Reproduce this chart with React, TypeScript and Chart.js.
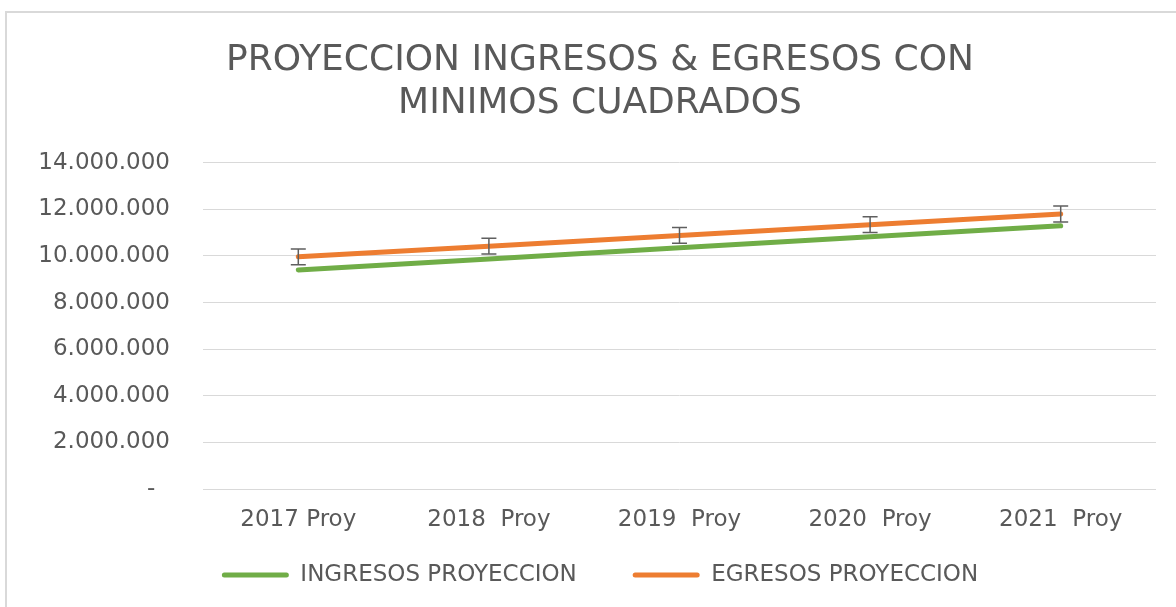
import React, { useEffect, useRef } from "react";
import { Chart, registerables } from "chart.js";

Chart.register(...registerables);

const CATEGORIES = ["2017 Proy", "2018  Proy", "2019  Proy", "2020  Proy", "2021  Proy"];
const INGRESOS = [9400000, 9870000, 10350000, 10820000, 11290000];
const EGRESOS = [9960000, 10420000, 10880000, 11340000, 11800000];
const EGRESOS_ERROR = [340000, 340000, 340000, 340000, 340000];
const SERIES_NAMES = ["INGRESOS PROYECCION", "EGRESOS PROYECCION"];
const TITLE_LINES = ["PROYECCION INGRESOS & EGRESOS CON", "MINIMOS CUADRADOS"];
const Y_MIN = 0;
const Y_MAX = 14000000;
const Y_STEP = 2000000;

const FONT = "'DejaVu Sans', sans-serif";
const TEXT = "#595959";

function formatTick(v: number): string {
  if (v === 0) return "-  ";
  return String(Math.round(v)).replace(/\B(?=(\d{3})+(?!\d))/g, ".");
}

const errorBarPlugin = {
  id: "errorBars",
  afterDatasetsDraw(chart: any) {
    const meta = chart.getDatasetMeta(1);
    const yScale = chart.scales.y;
    const ctx = chart.ctx;
    ctx.save();
    ctx.strokeStyle = "#5f5f5f";
    ctx.lineWidth = 1.5;
    meta.data.forEach((pt: any, i: number) => {
      const x = pt.x;
      const v = EGRESOS[i];
      const e = EGRESOS_ERROR[i];
      const yt = yScale.getPixelForValue(v + e);
      const yb = yScale.getPixelForValue(v - e);
      ctx.beginPath();
      ctx.moveTo(x, yt);
      ctx.lineTo(x, yb);
      ctx.moveTo(x - 7.5, yt);
      ctx.lineTo(x + 7.5, yt);
      ctx.moveTo(x - 7.5, yb);
      ctx.lineTo(x + 7.5, yb);
      ctx.stroke();
    });
    ctx.restore();
  },
};

export default function App() {
  const ref = useRef<HTMLCanvasElement | null>(null);

  useEffect(() => {
    if (!ref.current) return;
    const chart = new Chart(ref.current, {
      type: "line",
      data: {
        labels: CATEGORIES,
        datasets: [
          {
            label: SERIES_NAMES[0],
            data: INGRESOS,
            borderColor: "#70AD47",
            backgroundColor: "#70AD47",
            borderWidth: 5,
            borderCapStyle: "round",
            pointRadius: 0,
            fill: false,
            tension: 0,
          },
          {
            label: SERIES_NAMES[1],
            data: EGRESOS,
            borderColor: "#ED7D31",
            backgroundColor: "#ED7D31",
            borderWidth: 5,
            borderCapStyle: "round",
            pointRadius: 0,
            fill: false,
            tension: 0,
          },
        ],
      },
      options: {
        animation: false,
        responsive: false,
        maintainAspectRatio: false,
        layout: { padding: { left: 30, right: 6, top: 0, bottom: 10.5 } },
        plugins: {
          title: {
            display: true,
            text: TITLE_LINES,
            color: TEXT,
            font: { family: FONT, size: 36, weight: "normal", lineHeight: 1.2 },
            padding: { top: 39, bottom: 37.3 },
          },
          legend: {
            position: "bottom",
            labels: {
              color: TEXT,
              font: { family: FONT, size: 23 },
              boxWidth: 67,
              boxHeight: 5,
              padding: 12,
              useBorderRadius: true,
              borderRadius: 2.5,
              generateLabels: (chart: any) => {
                const items = Chart.defaults.plugins.legend.labels.generateLabels(chart);
                return items.map((it: any, i: number) => ({
                  ...it,
                  lineWidth: 0,
                  text: i === 0 ? it.text + "      " : it.text,
                }));
              },
            },
          },
          tooltip: { enabled: false },
        },
        scales: {
          x: {
            offset: true,
            grid: { display: false, drawTicks: false },
            border: { display: false },
            ticks: {
              color: TEXT,
              font: { family: FONT, size: 23 },
              padding: 17,
              maxRotation: 0,
              autoSkip: false,
            },
            afterFit: (scale: any) => {
              scale.height = 62.5;
            },
          },
          y: {
            min: Y_MIN,
            max: Y_MAX,
            grid: { color: "#d9d9d9", lineWidth: 1, drawTicks: false },
            border: { display: false },
            ticks: {
              stepSize: Y_STEP,
              color: TEXT,
              font: { family: FONT, size: 23 },
              padding: 33,
              callback: (v: any) => formatTick(Number(v)),
            },
            afterFit: (scale: any) => {
              scale.width = 173;
            },
          },
          y2: {
            position: "right",
            display: true,
            min: Y_MIN,
            max: Y_MAX,
            grid: { display: false, drawTicks: false },
            border: { display: false },
            ticks: { display: false },
            afterFit: (scale: any) => {
              scale.width = 14;
            },
          },
        },
      },
      plugins: [errorBarPlugin],
    } as any);
    return () => chart.destroy();
  }, []);

  return (
    <div
      style={{
        position: "fixed",
        left: 0,
        top: 0,
        width: 1176,
        height: 607,
        overflow: "hidden",
        background: "#ffffff",
      }}
    >
      <div
        style={{
          position: "absolute",
          left: 5,
          top: 11,
          width: 1300,
          height: 700,
          border: "2px solid #d9d9d9",
          boxSizing: "border-box",
        }}
      />
      <canvas
        ref={ref}
        width={1176}
        height={607}
        style={{ position: "absolute", left: 0, top: 0, width: 1176, height: 607 }}
      />
    </div>
  );
}
